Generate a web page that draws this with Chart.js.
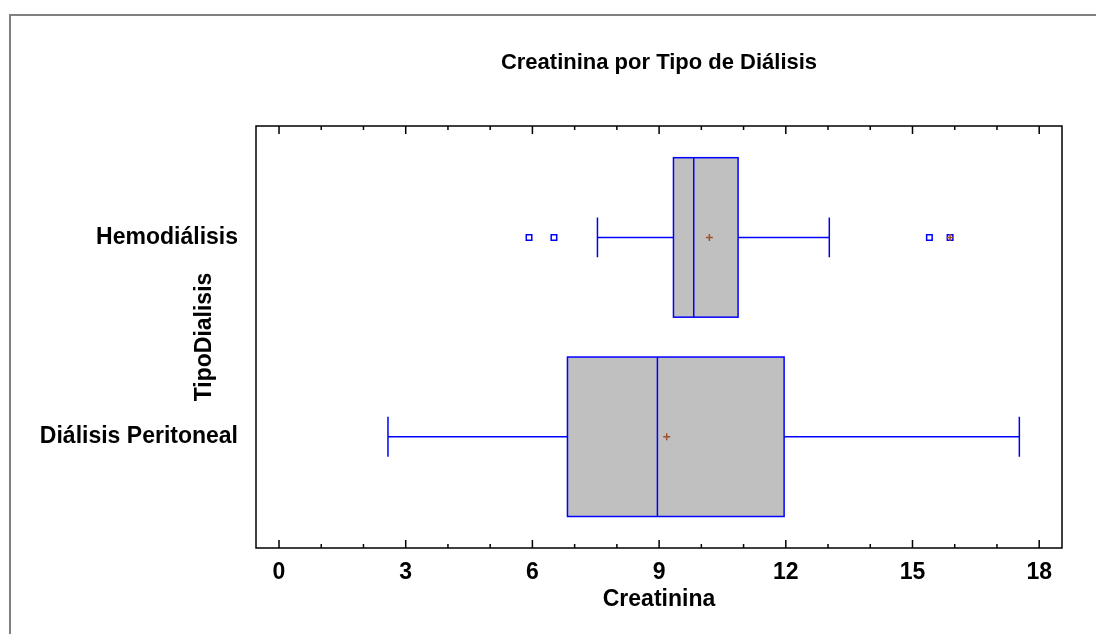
<!DOCTYPE html>
<html>
<head>
<meta charset="utf-8">
<title>Creatinina por Tipo de Diálisis</title>
<script src="https://cdn.jsdelivr.net/npm/chart.js@4.4.1/dist/chart.umd.min.js"></script>
<style>
  html, body { margin: 0; padding: 0; background: #fff; }
  #wrap { width: 1096px; height: 634px; position: relative; }
</style>
</head>
<body>
<div id="wrap"><canvas id="box" width="1096" height="634"></canvas></div>
<script>
// categories, positioned on a linear y axis (0 = bottom row)
const categories = ['Diálisis Peritoneal', 'Hemodiálisis'];
const categoryPos = [0, 1];

// box plot statistics
const whiskerLow = [2.58, 7.54];
const q1 = [6.83, 9.34];
const median = [8.96, 9.82];
const q3 = [11.96, 10.87];
const whiskerHigh = [17.53, 13.03];
const means = [9.18, 10.19];

// outside points (Hemodiálisis only) and the far outside one
const outlierValues = [5.92, 6.51, 15.40, 15.89];
const outlierCat = [1, 1, 1, 1];
const farOutValues = [15.89];
const farOutCat = [1];

const xTicks = [0, 3, 6, 9, 12, 15, 18];

const FONT = "'Liberation Sans', Arial, sans-serif";
const BLUE = '#0000ff';
const BROWN = '#a0522d';

const boxPlotPlugin = {
  id: 'boxPlotExtras',
  beforeDraw(chart) {
    const ctx = chart.ctx;
    // outer frame of the figure
    ctx.save();
    ctx.strokeStyle = '#808080';
    ctx.lineWidth = 2;
    ctx.beginPath();
    ctx.moveTo(10, chart.height);
    ctx.lineTo(10, 15);
    ctx.lineTo(chart.width, 15);
    ctx.stroke();
    ctx.restore();
  },
  beforeDatasetsDraw(chart) {
    const ctx = chart.ctx;
    const xs = chart.scales.x;
    const ys = chart.scales.y;
    ctx.save();
    ctx.lineWidth = 1.5;
    for (let i = 0; i < categories.length; i++) {
      const yc = ys.getPixelForValue(categoryPos[i]);
      const yTop = ys.getPixelForValue(categoryPos[i] + 0.4);
      const yBot = ys.getPixelForValue(categoryPos[i] - 0.4);
      const capTop = ys.getPixelForValue(categoryPos[i] + 0.1);
      const capBot = ys.getPixelForValue(categoryPos[i] - 0.1);
      const xl = xs.getPixelForValue(whiskerLow[i]);
      const x1 = xs.getPixelForValue(q1[i]);
      const xm = xs.getPixelForValue(median[i]);
      const x3 = xs.getPixelForValue(q3[i]);
      const xh = xs.getPixelForValue(whiskerHigh[i]);
      // box
      ctx.fillStyle = '#c0c0c0';
      ctx.strokeStyle = BLUE;
      ctx.fillRect(x1, yTop, x3 - x1, yBot - yTop);
      ctx.strokeRect(x1, yTop, x3 - x1, yBot - yTop);
      ctx.beginPath();
      // whiskers
      ctx.moveTo(xl, yc); ctx.lineTo(x1, yc);
      ctx.moveTo(x3, yc); ctx.lineTo(xh, yc);
      ctx.moveTo(xl, capTop); ctx.lineTo(xl, capBot);
      ctx.moveTo(xh, capTop); ctx.lineTo(xh, capBot);
      // median
      ctx.moveTo(xm, yTop); ctx.lineTo(xm, yBot);
      ctx.stroke();
    }
    ctx.restore();
  },
  afterDraw(chart) {
    const ctx = chart.ctx;
    const area = chart.chartArea;
    const xs = chart.scales.x;
    ctx.save();
    // plot frame
    ctx.strokeStyle = '#000';
    ctx.lineWidth = 1.5;
    ctx.strokeRect(area.left, area.top, area.right - area.left, area.bottom - area.top);
    // inward ticks on bottom and top, minor every 1, major every 3
    ctx.beginPath();
    for (let v = xTicks[0]; v <= xTicks[xTicks.length - 1]; v++) {
      const px = xs.getPixelForValue(v);
      const len = xTicks.includes(v) ? 8 : 4;
      ctx.moveTo(px, area.bottom); ctx.lineTo(px, area.bottom - len);
      ctx.moveTo(px, area.top); ctx.lineTo(px, area.top + len);
    }
    ctx.stroke();
    // title
    ctx.fillStyle = '#000';
    ctx.font = 'bold 22px ' + FONT;
    ctx.textAlign = 'center';
    ctx.textBaseline = 'middle';
    ctx.fillText('Creatinina por Tipo de Diálisis', (area.left + area.right) / 2, 63);
    ctx.restore();
  }
};

new Chart(document.getElementById('box'), {
  type: 'scatter',
  data: {
    datasets: [
      {
        label: 'Fuera',
        data: outlierValues.map((v, i) => ({ x: v, y: outlierCat[i] })),
        pointStyle: 'rect',
        radius: 3.9,
        backgroundColor: '#fff',
        borderColor: BLUE,
        borderWidth: 1.5,
        order: 2,
      },
      {
        label: 'Media',
        data: means.map((v, i) => ({ x: v, y: categoryPos[i] })),
        pointStyle: 'cross',
        radius: 3.5,
        borderColor: BROWN,
        borderWidth: 1.5,
        order: 1,
      },
      {
        label: 'Muy fuera',
        data: farOutValues.map((v, i) => ({ x: v, y: farOutCat[i] })),
        pointStyle: 'cross',
        radius: 3.5,
        borderColor: BROWN,
        borderWidth: 1.5,
        order: 0,
      },
    ],
  },
  options: {
    responsive: false,
    animation: false,
    layout: { padding: { top: 126, right: 34, left: 0, bottom: 0 } },
    plugins: {
      legend: { display: false },
      tooltip: { enabled: false },
    },
    scales: {
      x: {
        type: 'linear',
        position: 'bottom',
        min: -0.545,
        max: 18.54,
        afterBuildTicks: (scale) => { scale.ticks = xTicks.map((v) => ({ value: v })); },
        afterFit: (scale) => { scale.height = 86; },
        grid: { display: false, drawTicks: false },
        border: { display: false },
        ticks: {
          color: '#000',
          padding: 11,
          maxRotation: 0,
          font: { family: FONT, size: 23, weight: 'bold' },
        },
        title: {
          display: true,
          text: 'Creatinina',
          color: '#000',
          padding: { top: 0, bottom: 21 },
          font: { family: FONT, size: 23, weight: 'bold' },
        },
      },
      y: {
        type: 'linear',
        position: 'left',
        offset: false,
        min: -0.558,
        max: 1.559,
        afterBuildTicks: (scale) => { scale.ticks = categoryPos.map((v) => ({ value: v })); },
        afterFit: (scale) => { scale.width = 256; },
        grid: { display: false, drawTicks: false },
        border: { display: false },
        ticks: {
          color: '#000',
          padding: 18,
          callback: (v) => categories[categoryPos.indexOf(v)],
          font: { family: FONT, size: 23, weight: 'bold' },
        },
        title: {
          display: true,
          text: 'TipoDialisis',
          color: '#000',
          padding: { top: 191, bottom: 0 },
          font: { family: FONT, size: 23, weight: 'bold' },
        },
      },
    },
  },
  plugins: [boxPlotPlugin],
});
</script>
</body>
</html>
